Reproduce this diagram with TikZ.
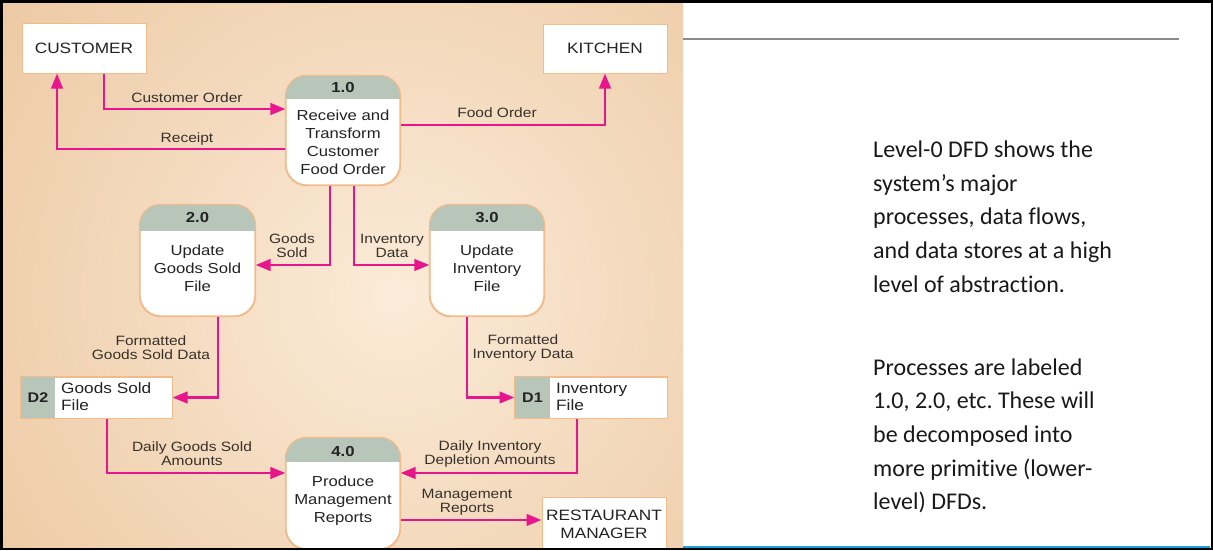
\documentclass[tikz,border=0pt]{standalone}
\usepackage{fontspec}
\usetikzlibrary{arrows.meta,calc}
\frenchspacing
\newfontfamily\dfd[FakeStretch=1.15]{Liberation Sans}
\newfontfamily\slidefont[Ligatures=NoCommon]{Carlito}
\definecolor{flowpink}{RGB}{232,22,140}
\definecolor{hdrgray}{RGB}{184,197,185}
\definecolor{boxedge}{RGB}{240,188,140}
\definecolor{lbltext}{RGB}{55,48,42}
\definecolor{nodetext}{RGB}{35,35,35}
\definecolor{bginner}{RGB}{251,235,216}
\definecolor{bgouter}{RGB}{229,183,135}
\definecolor{rulegray}{RGB}{140,140,140}
\definecolor{ruleblue}{RGB}{30,160,218}
\newcommand{\prochdr}[2]{%
  \begin{scope}
    \clip[rounded corners=21pt] (#1.north west) rectangle (#1.south east);
    \fill[hdrgray] (#1.north west) rectangle ($(#1.north east)+(0,#2)$);
  \end{scope}
  \draw[draw=boxedge, line width=1.2pt, rounded corners=21pt] (#1.north west) rectangle (#1.south east);}
\begin{document}
\begin{tikzpicture}[x=1pt,y=-1pt,
  entity/.style={draw=boxedge, line width=1pt, fill=white, inner sep=0pt, text=nodetext, font={\dfd\fontsize{15}{18}\selectfont}, align=center},
  procbox/.style={draw=boxedge, line width=1.2pt, fill=white, rounded corners=21pt, inner sep=0pt},
  proctext/.style={text=nodetext, font={\dfd\fontsize{14.5}{18}\selectfont}, align=center, inner sep=0pt},
  procnum/.style={text=nodetext, font={\dfd\bfseries\fontsize{14.5}{18}\selectfont}, inner sep=0pt},
  storebox/.style={draw=boxedge, line width=1pt, fill=white, inner sep=0pt},
  storetext/.style={text=nodetext, font={\dfd\fontsize{15}{17}\selectfont}, align=left, inner sep=0pt, anchor=west},
  flowlbl/.style={text=lbltext, font={\dfd\fontsize{13.5}{14}\selectfont}, align=center, inner sep=0pt},
  flow/.style={draw=flowpink, line width=2.6pt, -{Triangle[length=15pt,width=11.5pt]}},
  slide/.style={font={\slidefont\fontsize{24}{28}\selectfont}, inner sep=0pt, text=black!90, anchor=base west},
]
\useasboundingbox (0,0) rectangle (1213,550);
\fill[white] (0,0) rectangle (1213,550);

\begin{scope}
\clip (3,3) rectangle (683,547);
\shade[inner color=bginner, outer color=bgouter] (395,295) circle (760);

% external entities
\node[entity, minimum width=124pt, minimum height=50pt] (cust) at (84,48) {CUSTOMER};
\node[entity, minimum width=124pt, minimum height=49pt] (kit) at (605,48.5) {KITCHEN};
\node[entity, minimum width=124pt, minimum height=54pt] (rm) at (604,524) {RESTAURANT\\MANAGER};

% processes
\node[procbox, minimum width=114pt, minimum height=109pt] (p1) at (343,130.5) {};
\prochdr{p1}{24}
\node[procnum] (p1n) at (343,88) {1.0};
\node[proctext] (p1t) at (343,142) {Receive and\\Transform\\Customer\\Food Order};

\node[procbox, minimum width=115pt, minimum height=111pt] (p2) at (197.5,260.5) {};
\prochdr{p2}{27}
\node[procnum] (p2n) at (197.5,218) {2.0};
\node[proctext] (p2t) at (197.5,268) {Update\\Goods Sold\\File};

\node[procbox, minimum width=114pt, minimum height=111pt] (p3) at (487,260.5) {};
\prochdr{p3}{27}
\node[procnum] (p3n) at (487,218) {3.0};
\node[proctext] (p3t) at (487,268) {Update\\Inventory\\File};

\node[procbox, minimum width=114pt, minimum height=111pt] (p4) at (343,493.5) {};
\prochdr{p4}{25}
\node[procnum] (p4n) at (343,451) {4.0};
\node[proctext] (p4t) at (343,500.5) {Produce\\Management\\Reports};

% data stores
\node[storebox, minimum width=151pt, minimum height=41pt] (d2) at (96.5,397.5) {};
\fill[hdrgray] (d2.north west) rectangle ($(d2.south west)+(34,0)$);
\draw[boxedge, line width=1pt] (d2.north west) rectangle (d2.south east);
\node[procnum, font={\dfd\bfseries\fontsize{14}{17}\selectfont}] (d2id) at (38,398) {D2};
\node[storetext] (d2t) at (61,396.5) {Goods Sold\\File};

\node[storebox, minimum width=152pt, minimum height=41pt] (d1) at (591,397.5) {};
\fill[hdrgray] (d1.north west) rectangle ($(d1.south west)+(35,0)$);
\draw[boxedge, line width=1pt] (d1.north west) rectangle (d1.south east);
\node[procnum, font={\dfd\bfseries\fontsize{14}{17}\selectfont}] (d1id) at (532.5,398) {D1};
\node[storetext] (d1t) at (556,396.5) {Inventory\\File};

% flows
\draw[flow] ([xshift=20pt]cust.south) |- ([yshift=21.5pt]p1.west);
\draw[flow] ([yshift=-18.5pt]p1.west) -| ([xshift=-27pt]cust.south);
\draw[flow] ([yshift=5.5pt]p1.east) -| (kit.south);
\draw[flow] ([xshift=-13pt]p1.south) |- ([yshift=-4.5pt]p2.east);
\draw[flow] ([xshift=11pt]p1.south) |- ([yshift=-4.5pt]p3.west);
\draw[flow] ([xshift=20.5pt]p2.south) |- (d2.east);
\draw[flow] ([xshift=-20pt]p3.south) |- (d1.west);
\draw[flow] ([xshift=10.5pt]d2.south) |- ([yshift=20.5pt]p4.west);
\draw[flow] ([xshift=-14pt]d1.south) |- ([yshift=20.5pt]p4.east);
\draw[flow] ([yshift=-26.5pt]p4.east) -- ([yshift=-26.5pt]p4.east -| rm.west);

% flow labels
\node[flowlbl] (l1) at (187,98) {Customer Order};
\node[flowlbl] (l2) at (187,139) {Receipt};
\node[flowlbl] (l3) at (497,113) {Food Order};
\node[flowlbl] (l4) at (292,246) {Goods\\Sold};
\node[flowlbl] (l5) at (392,246) {Inventory\\Data};
\node[flowlbl] (l6) at (151,348) {Formatted\\Goods Sold Data};
\node[flowlbl] (l7) at (523,348) {Formatted\\Inventory Data};
\node[flowlbl] (l8) at (192,453.5) {Daily Goods Sold\\Amounts};
\node[flowlbl] (l9) at (490,453.5) {Daily Inventory\\Depletion Amounts};
\node[flowlbl] (l10) at (467,502.5) {Management\\Reports};
\end{scope}

% slide decorations
\draw[rulegray, line width=1.2pt] (683,39) -- (1179,39);
\draw[ruleblue, line width=2.6pt] (683,547) -- (1210,547);

% slide text
\node[slide] (r1) at (873,157) {Level-0 DFD shows the};
\node[slide] (r2) at (873,191) {system’s major};
\node[slide] (r3) at (873,224.5) {processes, data flows,};
\node[slide] (r4) at (873,258) {and data stores at a high};
\node[slide] (r5) at (873,292) {level of abstraction.};
\node[slide] (r6) at (873,375) {Processes are labeled};
\node[slide] (r7) at (873,408.5) {1.0, 2.0, etc. These will};
\node[slide] (r8) at (873,442) {be decomposed into};
\node[slide] (r9) at (873,476) {more primitive (lower-};
\node[slide] (r10) at (873,509.5) {level) DFDs.};

% outer frame
\draw[black, line width=2.5pt] (1.25,1.25) rectangle (1211.75,548.75);
\end{tikzpicture}
\end{document}
